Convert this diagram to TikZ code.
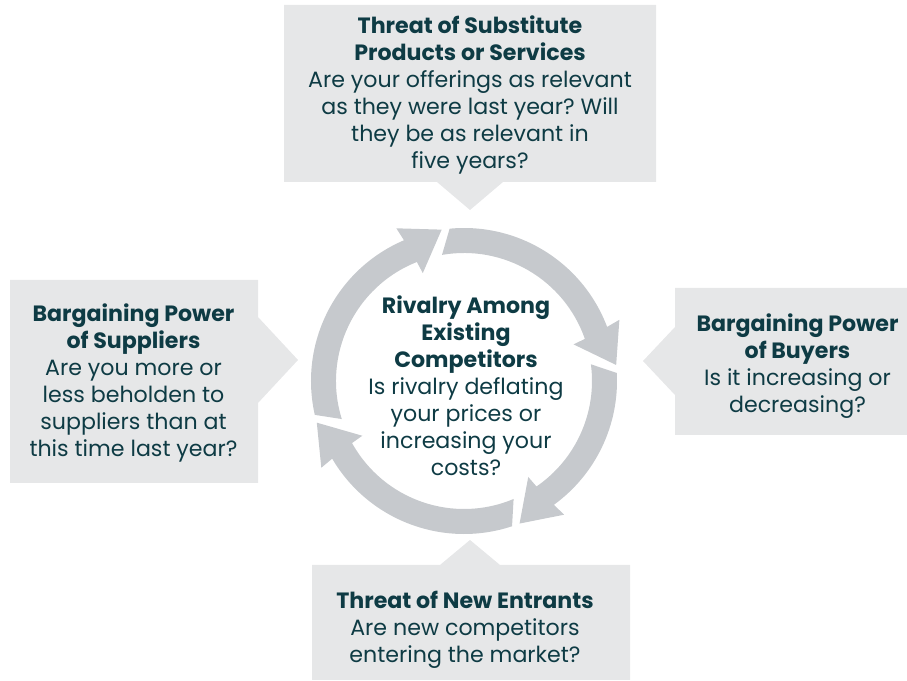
\documentclass[tikz,border=0pt]{standalone}
\usepackage{fontspec}
\setmainfont{Poppins}
\frenchspacing
\definecolor{txt}{HTML}{0E3B44}
\definecolor{boxg}{HTML}{E6E7E8}
\definecolor{ringg}{HTML}{C6C9CD}
\newcommand{\cycarrow}[3]{%
  \fill[ringg] (#1:153) arc[start angle=#1, end angle={#3+14.7}, radius=153]
    -- ({#3+15.5}:167) -- (#3:153) -- ({#3+12.5}:115.5) -- ({#3+13.2}:128)
    arc[start angle={#3+13.2}, end angle=#2, radius=128] -- cycle;}
\begin{document}
\begin{tikzpicture}[x=0.75pt,y=0.75pt,
  txtnode/.style={text=txt, align=center, inner sep=0pt, font=\fontsize{16.6}{20.25}\selectfont}]
\useasboundingbox (0,0) rectangle (907,681);
% callout boxes
\fill[boxg] (284,676) -- (656,676) -- (656,499) -- (503,499) -- (470,471) -- (437,499) -- (284,499) -- cycle;
\fill[boxg] (10,401) -- (258,401) -- (258,364) -- (298,321) -- (258,278) -- (258,198) -- (10,198) -- cycle;
\fill[boxg] (675,393) -- (907,393) -- (907,246) -- (675,246) -- (675,286) -- (643,320) -- (675,354) -- cycle;
\fill[boxg] (312,116) -- (440,116) -- (470,141) -- (500,116) -- (630,116) -- (630,1) -- (312,1) -- cycle;
% cycle arrows
\begin{scope}[shift={(464,300)}]
\cycarrow{192.8}{197.3}{98.4}
\cycarrow{95.4}{99.9}{6.0}
\cycarrow{3.0}{7.5}{-68.7}
\cycarrow{-71.7}{-67.2}{-164.2}
\end{scope}
% texts
\node[txtnode, anchor=north] (subst) at (470,665) {\textbf{Threat of Substitute}\\\textbf{Products or Services}\\Are your offerings as relevant\\as they were last year? Will\\they be as relevant in\\five years?};
\node[txtnode, anchor=north] (suppl) at (133.5,377) {\textbf{Bargaining Power}\\\textbf{of Suppliers}\\Are you more or\\less beholden to\\suppliers than at\\this time last year?};
\node[txtnode, anchor=north] (buyer) at (797.5,367) {\textbf{Bargaining Power}\\\textbf{of Buyers}\\Is it increasing or\\decreasing?};
\node[txtnode, anchor=north] (entr) at (465,90) {\textbf{Threat of New Entrants}\\Are new competitors\\entering the market?};
\node[txtnode, anchor=north] (rival) at (466,385) {\textbf{Rivalry Among}\\\textbf{Existing}\\\textbf{Competitors}\\Is rivalry deflating\\your prices or\\increasing your\\costs?};
\end{tikzpicture}
\end{document}
